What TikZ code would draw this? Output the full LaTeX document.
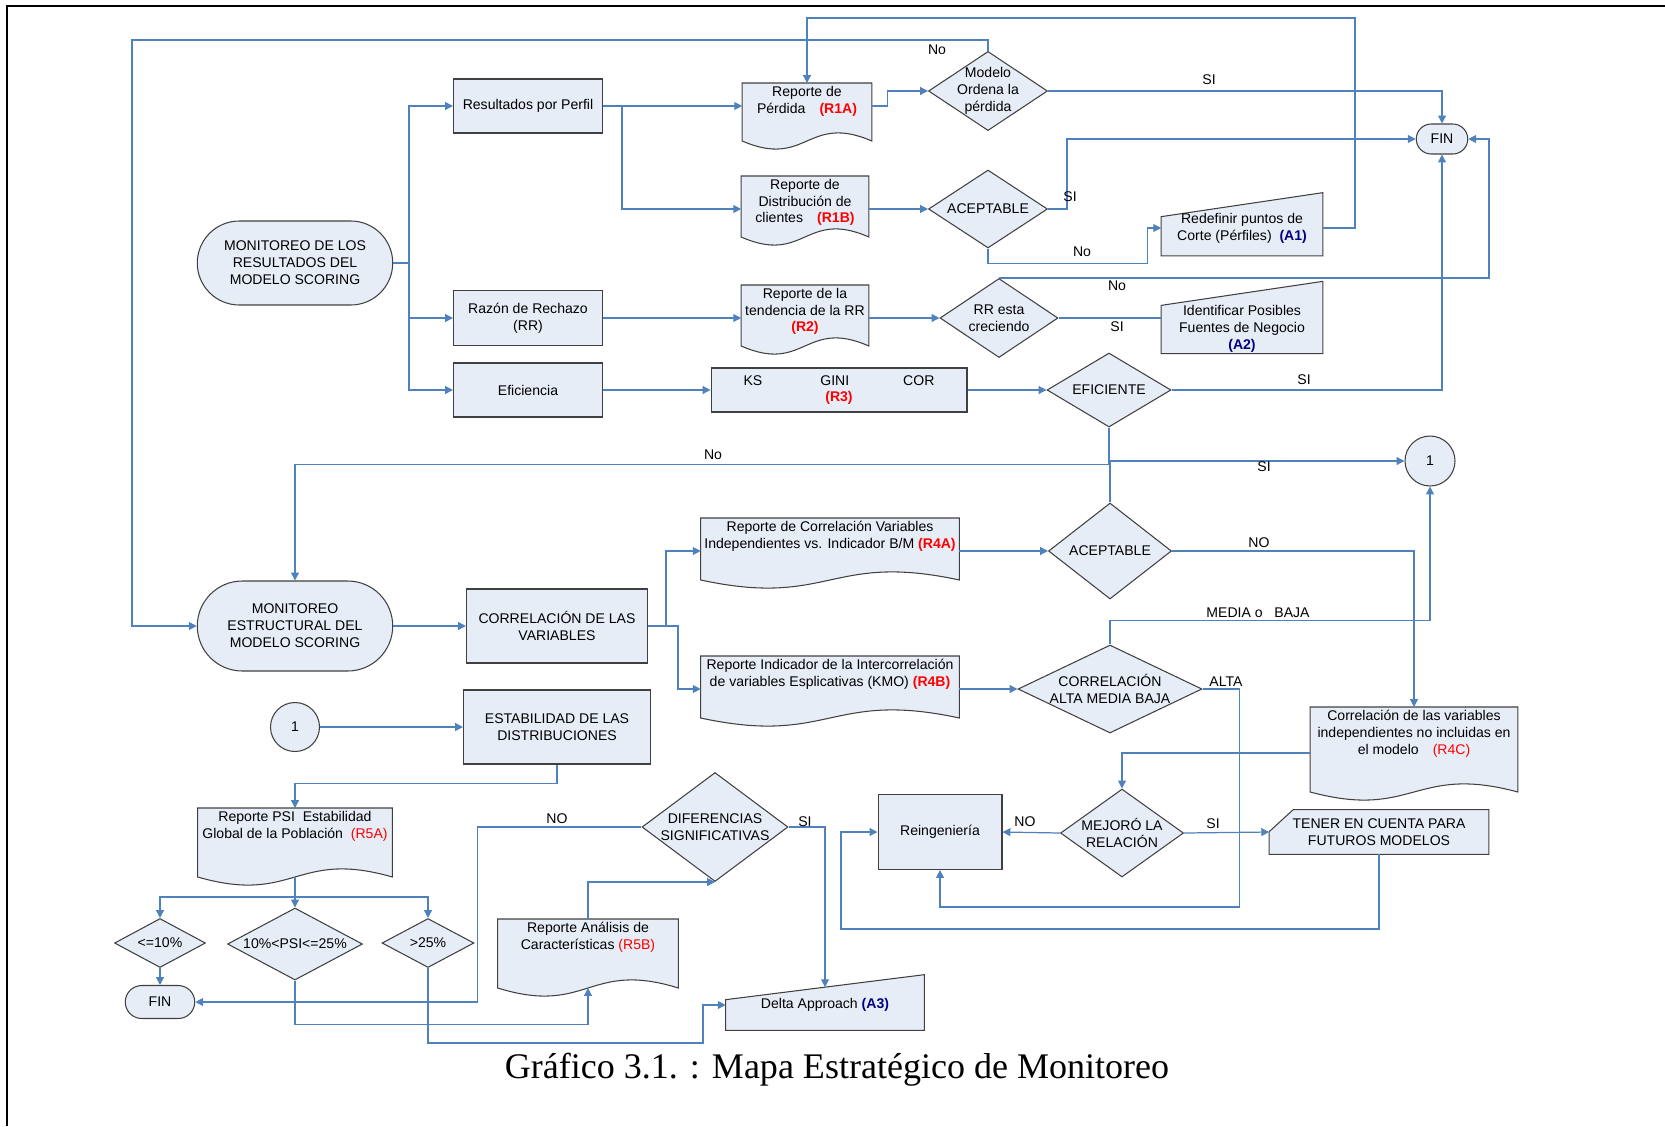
\documentclass[tikz,border=0pt]{standalone}
\usepackage{fontspec}
\setmainfont{Liberation Sans}
\newfontfamily\captionserif{Liberation Serif}
\usepackage{tikz}
\usetikzlibrary{arrows.meta,positioning,shapes.geometric,shapes.misc,calc,backgrounds}
\usepackage{xcolor}

\definecolor{flowblue}{RGB}{79,129,189}
\definecolor{boxfill}{RGB}{231,237,247}
\definecolor{navyA}{RGB}{0,0,128}

\newcommand{\rcode}[1]{\textcolor{red}{\textbf{#1}}}
\newcommand{\rcodelt}[1]{\textcolor{red}{#1}}
\newcommand{\acode}[1]{\textcolor{navyA}{\textbf{#1}}}

% document outline under a text node: #1 node, #2 body height
\newcommand{\docshape}[2]{%
  \begin{scope}[on background layer]
    \filldraw[shapeline] (#1.north west) -- (#1.north east) -- ([yshift=-#2]#1.north east)
      .. controls ($([yshift=-#2]#1.north)+(0,-28)$) and ($([yshift=-#2]#1.north)+(0,28)$) ..
      ([yshift=-#2]#1.north west) -- cycle;
  \end{scope}}
% manual input outline: #1 node, #2 rise of top right, #3 shift of top left
\newcommand{\manshape}[3]{%
  \begin{scope}[on background layer]
    \filldraw[shapeline] (#1.south west) -- (#1.south east) -- ([yshift=#2]#1.north east)
      -- ([yshift=#3]#1.north west) -- cycle;
  \end{scope}}

\begin{document}
\begin{tikzpicture}[x=0.02cm,y=-0.02cm,>={Triangle[length=4.5pt,width=4.5pt]},
  every node/.style={font=\fontsize{8}{9.6}\selectfont}]
\tikzstyle{box}=[rectangle,draw=black!75,fill=boxfill,line width=0.6pt,align=center,inner sep=1pt]
\tikzstyle{term}=[rounded rectangle,draw=black!75,fill=boxfill,line width=0.6pt,align=center,inner sep=1pt]
\tikzstyle{decision}=[diamond,draw=black!75,fill=boxfill,line width=0.6pt,align=center,inner sep=-1.5pt]
\tikzstyle{conn}=[circle,draw=black!75,fill=boxfill,line width=0.6pt,minimum size=1cm,inner sep=0pt]
\tikzstyle{doctext}=[anchor=north,align=center,inner sep=1.5pt]
\tikzstyle{bodytext}=[align=center,inner sep=0.5pt]
\tikzstyle{shapeline}=[draw=black!75,fill=boxfill,line width=0.6pt]
\tikzstyle{flow}=[draw=flowblue,line width=0.7pt]
\tikzstyle{lbl}=[inner sep=1pt]

\useasboundingbox (0,0) rectangle (1665,1126);
\draw[line width=1.1pt] (7,1126) -- (7,6) -- (1665,6);

% resultados del modelo
\node[term,minimum width=3.98cm,minimum height=1.68cm] (monres) at (295,263) {MONITOREO DE LOS\\RESULTADOS DEL\\MODELO SCORING};
\node[box,minimum width=2.98cm,minimum height=1.08cm] (perfil) at (528,106) {Resultados por Perfil};
\node[box,minimum width=2.98cm,minimum height=1.1cm] (rechazo) at (528,318) {Razón de Rechazo\\(RR)};
\node[box,minimum width=2.98cm,minimum height=1.08cm] (eficiencia) at (528,390) {Eficiencia};

\node[doctext,minimum width=2.58cm] (r1a) at (807,83) {Reporte de\\Pérdida\quad\rcode{(R1A)}};
\docshape{r1a}{1.16cm}
\node[doctext,minimum width=2.54cm] (r1b) at (805,176) {Reporte de\\Distribución de\\clientes\quad\rcode{(R1B)}};
\docshape{r1b}{1.22cm}
\node[doctext,minimum width=2.54cm] (r2) at (805,285) {Reporte de la\\tendencia de la RR\\\rcode{(R2)}};
\docshape{r2}{1.22cm}
\node[box,minimum width=5.12cm,minimum height=0.88cm] (r3) at (839,390) {KS\hspace{1.16cm}GINI\hspace{1.08cm}COR\\\rcode{(R3)}};

\node[decision,aspect=1.5,minimum width=2.38cm,minimum height=1.58cm] (ordena) at (988,91) {Modelo\\Ordena la\\pérdida};
\node[decision,aspect=1.5,minimum width=2.38cm,minimum height=1.56cm] (acepta) at (988,209) {ACEPTABLE};
\node[decision,aspect=1.5,minimum width=2.36cm,minimum height=1.58cm] (crece) at (999,318) {RR esta\\creciendo};
\node[decision,aspect=1.7,minimum width=2.48cm,minimum height=1.48cm] (eficiente) at (1109,390) {EFICIENTE};
\node[term,minimum width=1.1cm,minimum height=0.6cm] (fin) at (1442,139) {FIN};

\node[bodytext,minimum width=3.22cm,minimum height=1.1cm] (a1) at (1242,228) {Redefinir puntos de\\Corte (Pérfiles)\ \ \acode{(A1)}};
\manshape{a1}{0.15cm}{-0.33cm}
\node[bodytext,minimum width=3.22cm,minimum height=0.92cm] (a2) at (1242,329) {Identificar Posibles\\Fuentes de Negocio\\\acode{(A2)}};
\manshape{a2}{0.46cm}{-0.02cm}

% estructural
\node[term,minimum width=3.98cm,minimum height=1.8cm] (monest) at (295,626) {MONITOREO\\ESTRUCTURAL DEL\\MODELO SCORING};
\node[box,minimum width=3.62cm,minimum height=1.48cm] (corr) at (557,626) {CORRELACIÓN DE LAS\\VARIABLES};
\node[doctext,minimum width=5.16cm] (r4a) at (830,518) {Reporte de Correlación Variables\\Independientes vs. Indicador B/M \rcode{(R4A)}};
\docshape{r4a}{1.24cm}
\node[doctext,minimum width=5.16cm] (r4b) at (830,656) {Reporte Indicador de la Intercorrelación\\de variables Esplicativas (KMO) \rcode{(R4B)}};
\docshape{r4b}{1.24cm}
\node[decision,aspect=1.3,minimum width=2.46cm,minimum height=1.92cm] (acepta2) at (1110,551) {ACEPTABLE};
\node[decision,aspect=2.1,minimum width=3.68cm,minimum height=1.76cm] (nivel) at (1110,689) {CORRELACIÓN\\ALTA MEDIA BAJA};
\node[conn] (uno) at (1430,461) {1};
\node[doctext,minimum width=4.14cm] (r4c) at (1414,707) {Correlación de las variables\\independientes no incluidas en\\el modelo\quad\rcodelt{(R4C)}};
\docshape{r4c}{1.7cm}

% estabilidad
\node[conn,minimum size=0.98cm] (uno2) at (295,727) {1};
\node[box,minimum width=3.74cm,minimum height=1.48cm] (estab) at (557,727) {ESTABILIDAD DE LAS\\DISTRIBUCIONES};
\node[doctext,minimum width=3.88cm] (r5a) at (295,808) {Reporte PSI\ \ Estabilidad\\Global de la Población\ \ \rcodelt{(R5A)}};
\docshape{r5a}{1.38cm}
\node[decision,aspect=1.86,minimum width=1.82cm,minimum height=0.98cm] (menor) at (160,943) {<=10\%};
\node[decision,aspect=1.88,minimum width=2.7cm,minimum height=1.44cm] (medio) at (295,944) {10\%<PSI<=25\%};
\node[decision,aspect=1.88,minimum width=1.84cm,minimum height=0.98cm] (mayor) at (428,943) {>25\%};
\node[term,minimum width=1.46cm,minimum height=0.66cm] (fin2) at (160,1002) {FIN};
\node[doctext,minimum width=3.6cm] (r5b) at (588,919) {Reporte Análisis de\\Características \rcodelt{(R5B)}};
\docshape{r5b}{1.38cm}
\node[decision,aspect=1.34,minimum width=2.92cm,minimum height=2.18cm] (difer) at (715,827) {DIFERENCIAS\\SIGNIFICATIVAS};
\node[bodytext,minimum width=3.96cm,minimum height=1.0cm] (a3) at (825,1005) {Delta Approach \acode{(A3)}};
\manshape{a3}{0.1cm}{-0.4cm}

\node[box,minimum width=2.48cm,minimum height=1.5cm] (reing) at (940,832) {Reingeniería};
\node[decision,aspect=1.4,minimum width=2.46cm,minimum height=1.76cm] (mejoro) at (1122,833) {MEJORÓ LA\\RELACIÓN};
\node[bodytext,minimum width=4.38cm,minimum height=0.88cm] (tener) at (1379,832) {TENER EN CUENTA PARA\\FUTUROS MODELOS};
\begin{scope}[on background layer]
  \filldraw[shapeline] (tener.south west) -- (tener.south east) -- (tener.north east)
    -- ([xshift=0.48cm]tener.north west) -- ([yshift=-0.44cm]tener.north west) -- cycle;
\end{scope}

\node[font=\captionserif\fontsize{20.5}{24}\selectfont] (titulo) at (837,1070) {Gráfico 3.1. : Mapa Estratégico de Monitoreo};

% conectores
\coordinate (split) at (409,263);
\draw[flow,->] (monres.east) -- (split) |- (perfil.west);
\draw[flow,->] (split) |- (rechazo.west);
\draw[flow,->] (split) |- (eficiencia.west);
\draw[flow,->] (perfil.east) -- (perfil.east -| r1a.west);
\draw[flow,->] ([xshift=0.38cm]perfil.east) |- (r1b.west |- acepta);
\draw[flow,->] (perfil.east -| r1a.east) -- ++(16,0) |- (ordena.west);
\draw[flow,->] (ordena.east) -| (fin.north);
\coordinate (topleft) at (132,40);
\draw[flow,->] (ordena.north) |- (topleft) |- (monest.west);
\coordinate (topright) at (1355,18);
\draw[flow,->] (a1.east) -| (topright) -| (r1a.north);
\draw[flow,->] (r1b.east |- acepta) -- (acepta.west);
\draw[flow,->] (acepta.east) -- ++(19,0) |- (fin.west);
\draw[flow,->] (acepta.south) -- ++(0,15) -| ([xshift=-0.28cm]a1.west) -- (a1.west);
\draw[flow,->] (rechazo.east) -- (rechazo.east -| r2.west);
\draw[flow,->] (rechazo.east -| r2.east) -- (crece.west);
\draw[flow,->] (crece.north) -- ++(490,0) |- (fin.east);
\draw[flow] (crece.east) -- (crece.east -| a2.west);
\draw[flow,->] (eficiencia.east) -- (r3.west);
\draw[flow,->] (r3.east) -- (eficiente.west);
\draw[flow,->] (eficiente.east) -| (fin.south);
\draw[flow,->] (eficiente.south) -- ++(0,37) -| (monest.north);
\draw[flow,->] (acepta2.north) |- (uno.west);

\draw[flow,->] (monest.east) -- (corr.west);
\draw[flow,->] (corr.east) -- ++(18,0) |- (r4a.west |- acepta2);
\draw[flow,->] (corr.east) -- ++(30,0) |- (r4b.west |- nivel);
\draw[flow,->] (r4a.east |- acepta2) -- (acepta2.west);
\draw[flow,->] (r4b.east |- nivel) -- (nivel.west);
\draw[flow,->] (acepta2.east) -| (r4c.north);
\draw[flow,->] (nivel.north) -- ++(0,-24) -| (uno.south);
\draw[flow,->] (nivel.east) -- ++(37,0) |- ([yshift=-0.74cm]reing.south) -- (reing.south);
\draw[flow,->] ([yshift=-0.92cm]r4c.north west) -| (mejoro.north);
\draw[flow,->] (mejoro.west) -- (reing.east);
\draw[flow,->] (mejoro.east) -- (tener.west);
\coordinate (bottomloop) at (841,929);
\draw[flow,->] (tener.south) |- (bottomloop) |- (reing.west);

\draw[flow,->] (uno2.east) -- (estab.west);
\draw[flow,->] (estab.south) -- ++(0,19) -| (r5a.north);
\coordinate (psi) at (295,897);
\draw[flow] ([yshift=-1.38cm]r5a.north) -- (psi);
\draw[flow,->] (psi) -- (medio.north);
\draw[flow,->] (psi) -| (menor.north);
\draw[flow,->] (psi) -| (mayor.north);
\draw[flow,->] (menor.south) -- (fin2.north);
\draw[flow,->] (difer.west) -- ++(-164,0) |- (fin2.east);
\draw[flow,->] (medio.south) -- ++(0,44) -| ([yshift=-1.38cm]r5b.north);
\draw[flow,->] (r5b.north) |- (difer.south);
\coordinate (deltain) at (703,1043);
\draw[flow,->] (mayor.south) |- (deltain) |- (a3.west);
\draw[flow,->] (difer.east) -| ([yshift=-0.15cm]a3.north);

% etiquetas
\node[lbl] (lno1) at (937,50) {No};
\node[lbl] (lsi1) at (1209,80) {SI};
\node[lbl] (lsi2) at (1070,197) {SI};
\node[lbl] (lno2) at (1082,252) {No};
\node[lbl] (lno3) at (1117,286) {No};
\node[lbl] (lsi3) at (1117,327) {SI};
\node[lbl] (lsi4) at (1304,380) {SI};
\node[lbl] (lno4) at (713,455) {No};
\node[lbl] (lsi5) at (1264,467) {SI};
\node[lbl] (lno5) at (1259,543) {NO};
\node[lbl] (lmedia) at (1258,613) {MEDIA o\ \ \ BAJA};
\node[lbl] (lalta) at (1226,682) {ALTA};
\node[lbl] (lno6) at (1025,822) {NO};
\node[lbl] (lsi6) at (1213,824) {SI};
\node[lbl] (lno7) at (557,819) {NO};
\node[lbl] (lsi7) at (805,822) {SI};
\end{tikzpicture}
\end{document}
